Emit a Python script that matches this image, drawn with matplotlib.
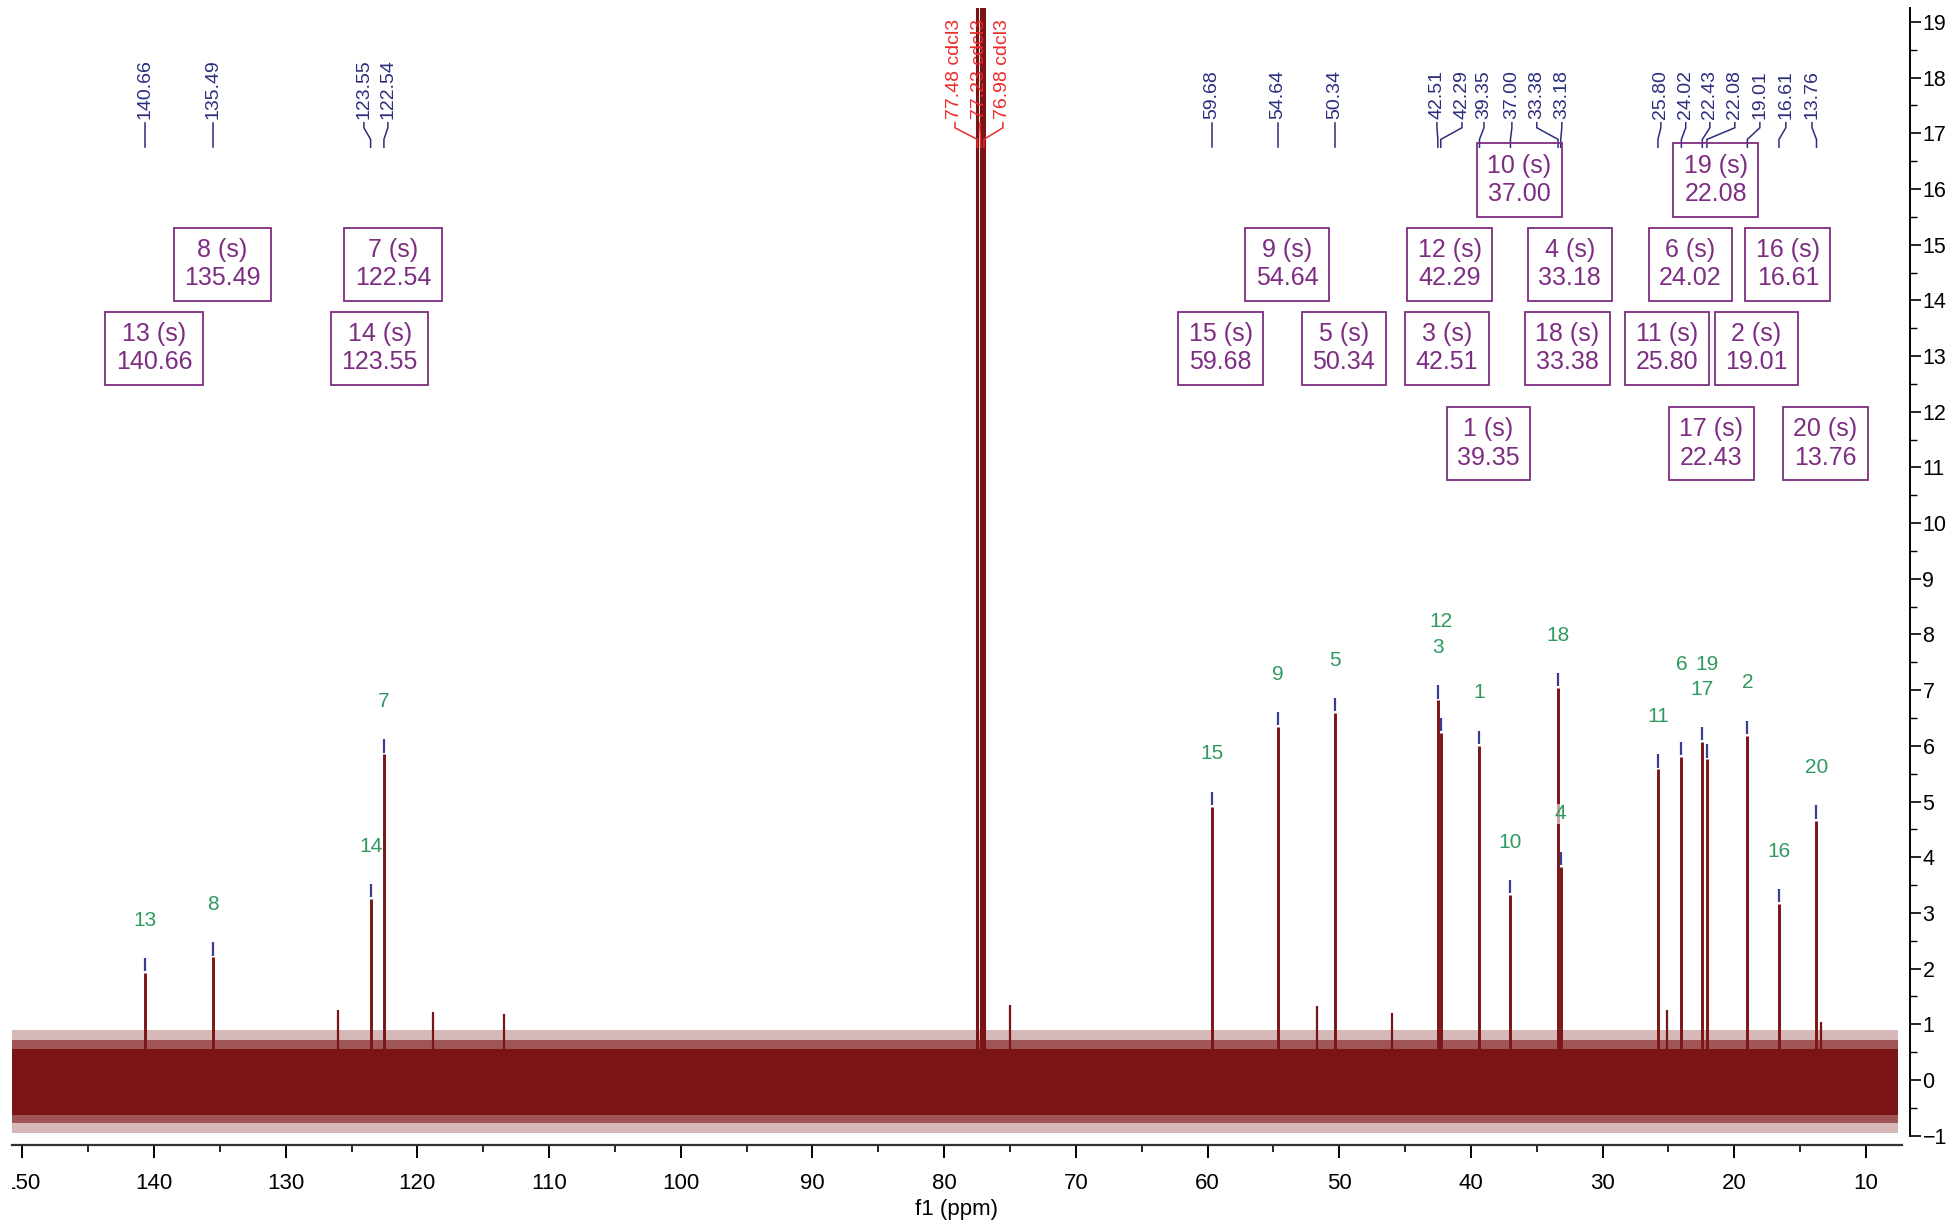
import numpy as np
import matplotlib.pyplot as plt
from matplotlib.transforms import Bbox, TransformedBbox

plt.rcParams['font.family'] = ['Liberation Sans', 'DejaVu Sans']

# picked peaks: shift (ppm), intensity, carbon number
shifts = [140.66, 135.49, 123.55, 122.54, 59.68, 54.64, 50.34, 42.51, 42.29, 39.35,
          37.00, 33.38, 33.18, 25.80, 24.02, 22.43, 22.08, 19.01, 16.61, 13.76]
heights = [1.92, 2.20, 3.25, 5.85, 4.91, 6.34, 6.59, 6.82, 6.23, 6.00,
           3.32, 7.04, 3.83, 5.58, 5.80, 6.07, 5.76, 6.18, 3.16, 4.66]
atoms = [13, 8, 14, 7, 15, 9, 5, 3, 12, 1, 10, 18, 4, 11, 6, 17, 19, 2, 16, 20]

# CDCl3 triplet (off scale)
solvent_shifts = [77.48, 77.23, 76.98]
solvent_heights = [30.0, 32.0, 30.0]

# a few noise spikes standing out of the baseline
spike_shifts = [126.0, 118.84, 113.4, 75.0, 51.7, 45.96, 25.13, 13.4]
spike_heights = [1.26, 1.23, 1.18, 1.34, 1.33, 1.20, 1.26, 1.04]

# baseline noise envelope, from the dense core out to the ragged edge
noise_range = [150.78, 7.6]
noise_levels = [(-0.62, 0.55, 1.0), (-0.78, 0.72, 0.6), (-0.95, 0.9, 0.3)]

# layout: where the peak-list labels sit, which box row, label heights
list_x = [140.66, 135.49, 124.06, 122.24, 59.68, 54.64, 50.34, 42.58, 40.68, 39.01,
          36.89, 35.0, 33.1, 25.58, 23.69, 21.86, 19.96, 18.06, 16.09, 14.1]
box_row = [2, 1, 2, 1, 2, 1, 2, 2, 1, 3, 0, 2, 1, 2, 1, 3, 0, 2, 1, 3]
row_y = [16.16, 14.65, 13.14, 11.43]
label_y_fix = {12: 8.24, 19: 7.47, 6: 7.47}
solvent_list_x = [79.18, 77.28, 75.54]

red = '#7b1416'
navy = '#2b2e7c'
purple = '#7d2d82'
green = '#2f9a5f'
marker_blue = '#3a3d95'
solvent_red = '#ee2a2a'

fig = plt.figure(figsize=(19.56, 12.28), dpi=100)
ax = fig.add_axes([12 / 1956, 1 - 1145 / 1228, (1910 - 12) / 1956, (1145 - 8) / 1228])
ax.set_xlim(150.78, 6.66)
ax.set_ylim(-1.167, 19.25)

# noise band
for lo, hi, a in noise_levels:
    ax.fill_between(noise_range, lo, hi, color=red, alpha=a, lw=0, zorder=1)
ax.vlines(spike_shifts, 0, spike_heights, color=red, lw=1.6, zorder=2)

# peaks
ax.vlines(shifts, 0, heights, color=red, lw=2.1, zorder=3)
ax.vlines(solvent_shifts, 0, solvent_heights, color=red, lw=2.2, zorder=3)
hts = np.array(heights)
ax.vlines(shifts, hts + 0.03, hts + 0.27, color=marker_blue, lw=1.6, zorder=3)

# assignment numbers above peaks
for s, h, a in zip(shifts, heights, atoms):
    y = label_y_fix.get(a, h + 0.95)
    ax.text(s, y, str(a), color=green, fontsize=15, ha='center', va='center',
            zorder=5, bbox=dict(fc='white', ec='none', alpha=0.6, pad=0.5))

# peak list along the top
y_txt, y0, y1, y2, y3 = 17.25, 17.19, 17.1, 16.89, 16.75


def peak_label(lx, px, text, color, size):
    ax.text(lx, y_txt, text, rotation=90, ha='center', va='bottom', color=color,
            fontsize=size, zorder=6)
    ax.plot([lx, lx, px, px], [y0, y1, y2, y3], color=color, lw=1.1, zorder=6,
            solid_joinstyle='miter')


for lx, s in zip(list_x, shifts):
    peak_label(lx, s, f'{s:.2f}', navy, 14)
for lx, s in zip(solvent_list_x, solvent_shifts):
    peak_label(lx, s, f'{s:.2f} cdcl3', solvent_red, 14)

# multiplet boxes
for s, a, r in zip(shifts, atoms, box_row):
    ax.text(s - 0.68, row_y[r], f'{a} (s)\n{s:.2f}', ha='center', va='center',
            color=purple, fontsize=18, linespacing=1.22, zorder=6,
            bbox=dict(boxstyle='square,pad=0.42', fc='none', ec=purple, lw=1.3))

# axes styling
for side in ['top', 'left']:
    ax.spines[side].set_visible(False)
ax.spines['bottom'].set_bounds(150.78, 7.27)
ax.spines['bottom'].set_linewidth(1.6)
ax.spines['bottom'].set_color('#333333')
ax.spines['right'].set_bounds(-1, 19.25)
ax.spines['right'].set_linewidth(1.4)

ax.set_xticks(np.arange(150, 9, -10))
ax.set_xticks(np.arange(145, 7, -5), minor=True)
ax.set_yticks(np.arange(-1, 20, 1))
ax.set_yticks(np.arange(-0.5, 19.3, 0.5), minor=True)
ax.yaxis.tick_right()
ax.tick_params(axis='x', which='major', direction='out', length=9, width=1.4,
               pad=11, labelsize=16)
ax.tick_params(axis='x', which='minor', direction='out', length=5, width=1.2)
ax.tick_params(axis='y', which='major', direction='out', length=8, width=1.2,
               pad=1, labelsize=15.5)
ax.tick_params(axis='y', which='minor', direction='out', length=5, width=1.0)
ax.yaxis.set_ticks_position('right')

# the view is cut at its left edge, so the tick text is too
clip = TransformedBbox(Bbox.from_extents(12 / 1956, 0, 1, 1), fig.transFigure)
for t in ax.xaxis.get_major_ticks():
    t.label1.set_clip_box(clip)
    t.label1.set_clip_on(True)

fig.text(957 / 1956, 1 - 1210 / 1228, 'f1 (ppm)', ha='center', va='center', fontsize=16)

fig.savefig('out.png', dpi=100)
